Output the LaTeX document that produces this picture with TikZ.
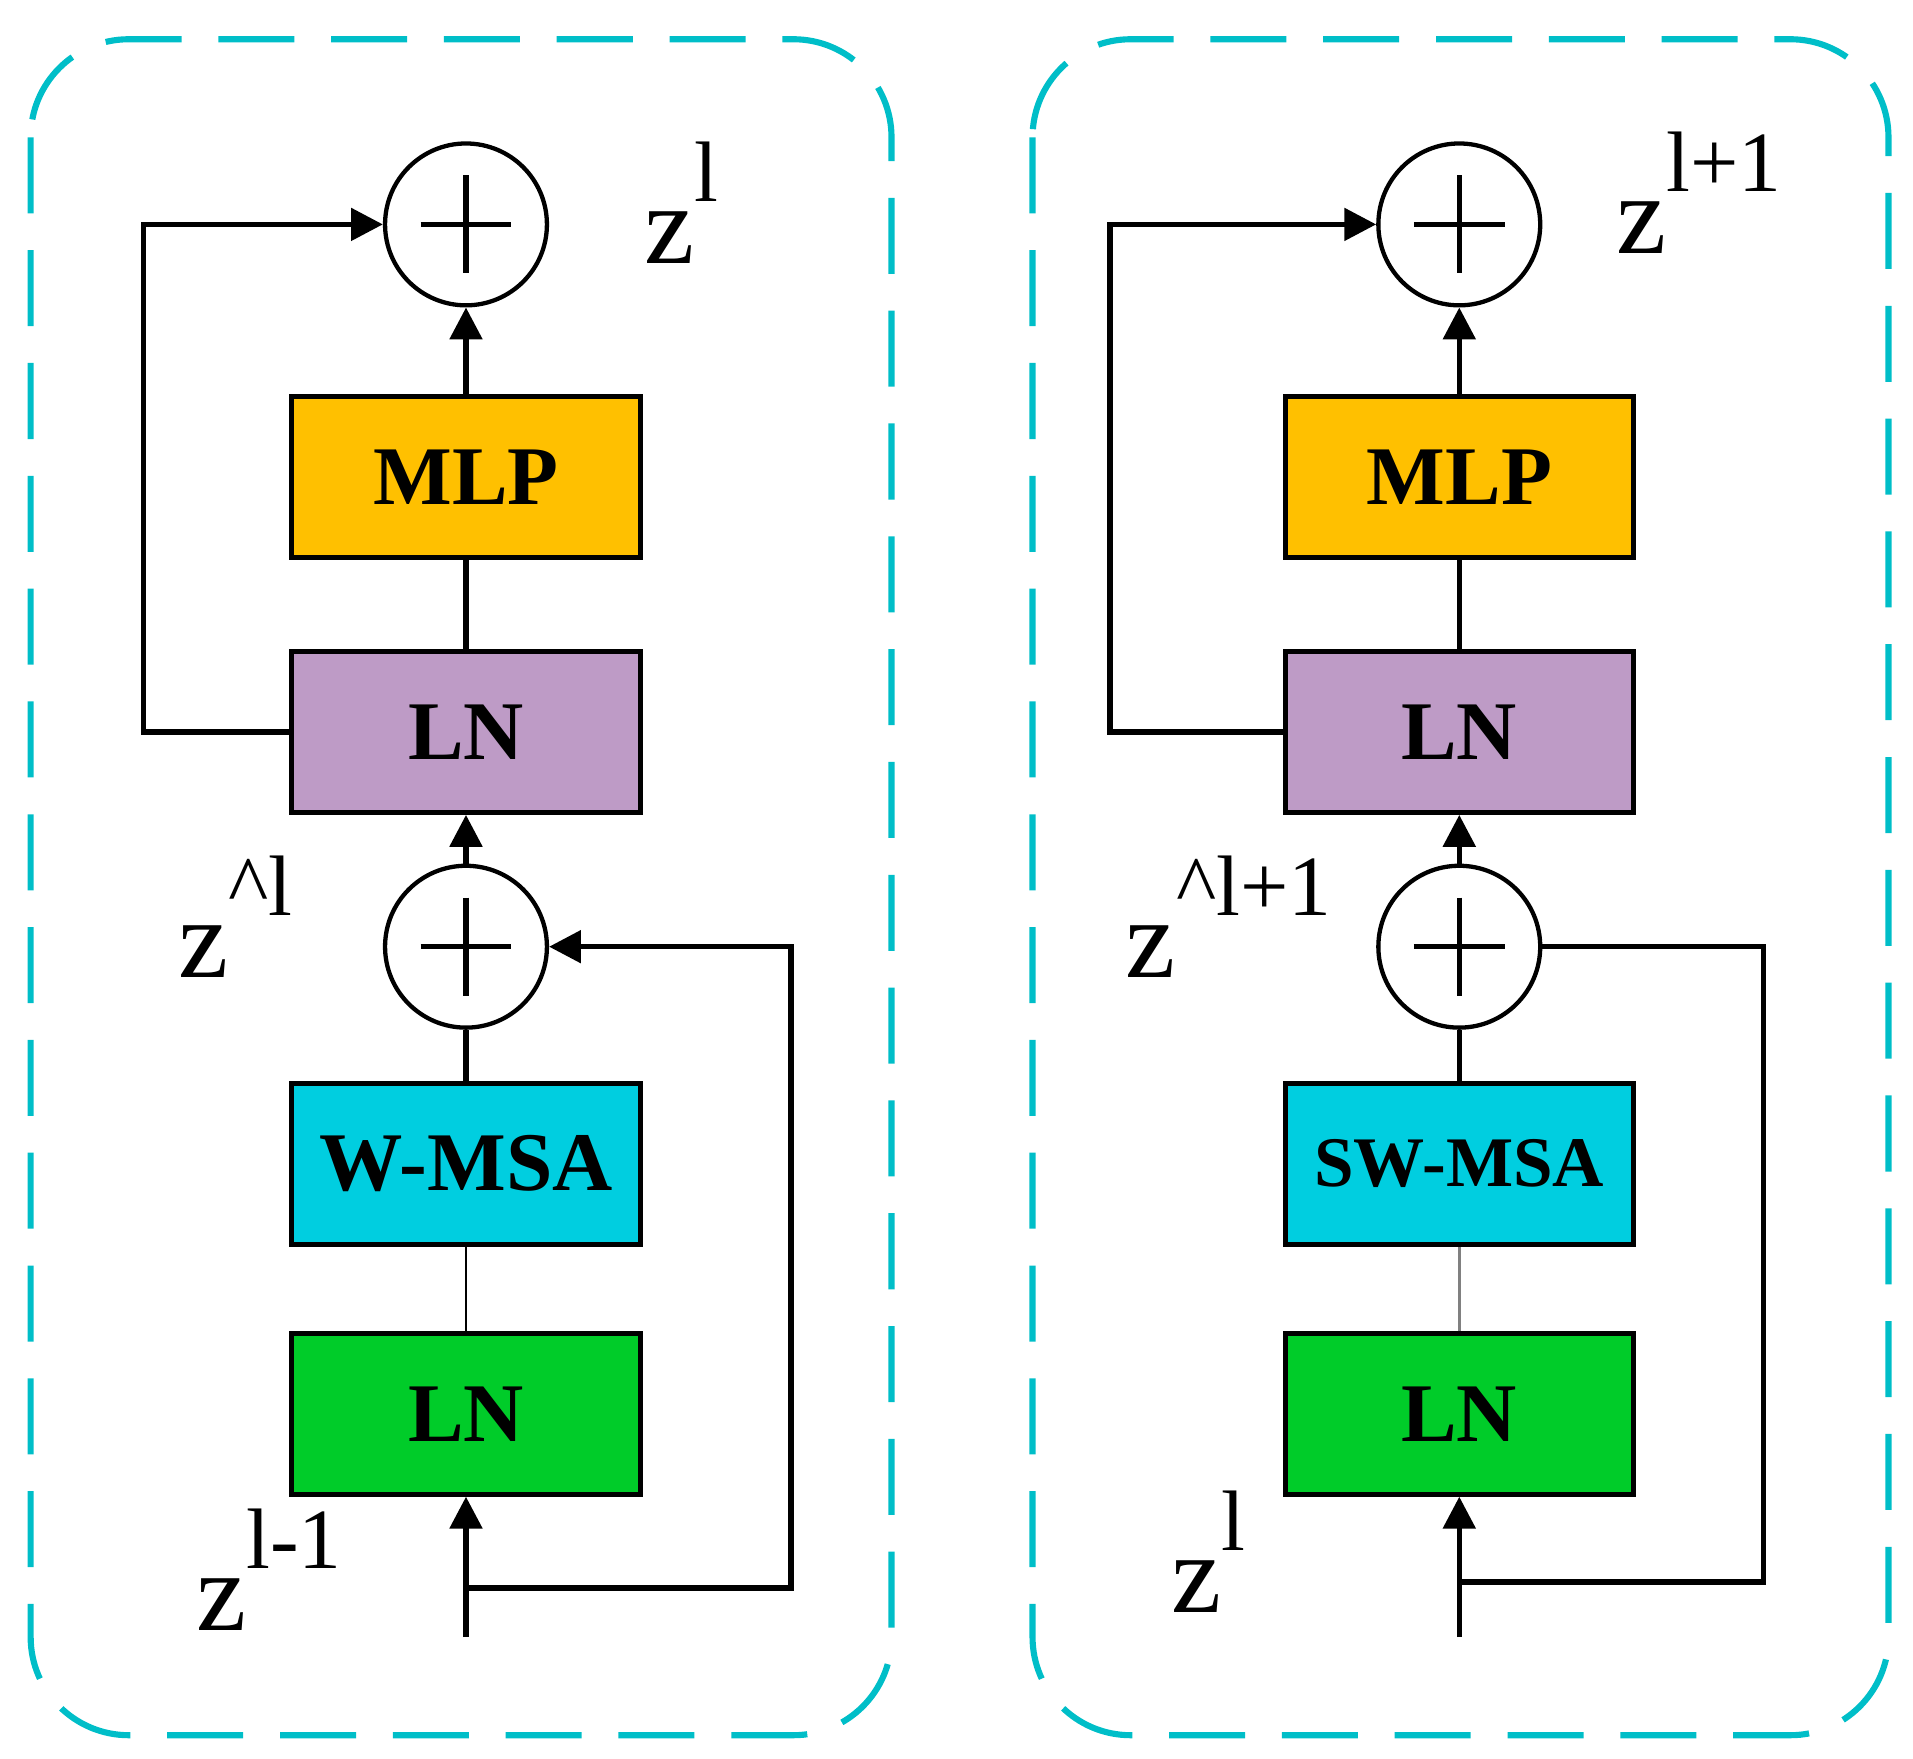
\documentclass[tikz,border=0pt]{standalone}
\usepackage{fontspec}
\setmainfont{Liberation Serif}
\usetikzlibrary{arrows.meta}
\definecolor{dash}{RGB}{0,190,200}
\definecolor{mlp}{RGB}{255,192,0}
\definecolor{lnp}{RGB}{190,155,198}
\definecolor{msa}{RGB}{0,206,224}
\definecolor{lng}{RGB}{0,204,41}
\newcommand{\sups}[1]{\raisebox{0.55em}{\fontsize{70}{72}\selectfont #1}}
\begin{document}
\begin{tikzpicture}[x=1pt,y=-1pt,
  box/.style={draw=black,line width=4pt,minimum width=284pt,minimum height=131pt,inner sep=0pt,font=\fontsize{68}{72}\selectfont\bfseries},
  sum/.style={draw=black,line width=3.5pt,circle,minimum size=132pt,inner sep=0pt},
  frame/.style={draw=dash,line width=5pt,dash pattern=on 62pt off 30pt,rounded corners=80pt},
  ln/.style={line width=4.5pt},
  arr/.style={line width=4.5pt,-{Triangle[length=26pt,width=26pt]}},
  lbl/.style={font=\fontsize{92}{96}\selectfont,inner sep=0pt}]
\useasboundingbox (0,0) rectangle (1560,1434);
\draw[frame] (25,32) rectangle (727,1415);
\draw[frame] (842,32) rectangle (1540,1415);
% left panel
\begin{scope}
\node[sum] (s1) at (380,183) {};
\draw[line width=4.5pt] (s1.center)++(-37,0) -- ++(74,0) (s1.center)++(0,-40) -- ++(0,80);
\node[box,fill=mlp] (mlp) at (380,389) {MLP};
\node[box,fill=lnp] (ln2) at (380,597) {LN};
\node[sum] (s2) at (380,772) {};
\draw[line width=4.5pt] (s2.center)++(-37,0) -- ++(74,0) (s2.center)++(0,-40) -- ++(0,80);
\node[box,fill=msa] (msa) at (380,949) {W-MSA};
\node[box,fill=lng] (ln1) at (380,1153) {LN};
\coordinate (in) at (380,1335);
\coordinate (br) at (380,1295);
\coordinate (c1) at (117,597);
\coordinate (c2) at (117,183);
\coordinate (c3) at (645,1295);
\coordinate (c4) at (645,772);
\draw[arr] (mlp) -- (s1);
\draw[ln] (ln2) -- (mlp);
\draw[arr] (s2) -- (ln2);
\draw[ln] (msa) -- (s2);
\draw[line width=2pt] (ln1) -- (msa);
\draw[arr] (in) -- (ln1);
\draw[arr] (ln2.west) -- (c1) -- (c2) -- (s1);
\draw[arr] (br) -- (c3) -- (c4) -- (s2);
\node[lbl,anchor=base west] (t1) at (525,215) {z\sups{l}};
\node[lbl,anchor=base west] (t2) at (145,797) {z\sups{\textasciicircum l}};
\node[lbl,anchor=base west] (t3) at (160,1330) {z\sups{l-1}};
\end{scope}
% right panel
\begin{scope}[xshift=810pt]
\node[sum] (rs1) at (380,183) {};
\draw[line width=4.5pt] (rs1.center)++(-37,0) -- ++(74,0) (rs1.center)++(0,-40) -- ++(0,80);
\node[box,fill=mlp] (rmlp) at (380,389) {MLP};
\node[box,fill=lnp] (rln2) at (380,597) {LN};
\node[sum] (rs2) at (380,772) {};
\draw[line width=4.5pt] (rs2.center)++(-37,0) -- ++(74,0) (rs2.center)++(0,-40) -- ++(0,80);
\node[box,fill=msa,font=\fontsize{58}{62}\selectfont\bfseries] (rmsa) at (380,949) {SW-MSA};
\node[box,fill=lng] (rln1) at (380,1153) {LN};
\coordinate (rin) at (380,1335);
\coordinate (rbr) at (380,1290);
\coordinate (rc1) at (95,597);
\coordinate (rc2) at (95,183);
\coordinate (rc3) at (628,1290);
\coordinate (rc4) at (628,772);
\draw[arr] (rmlp) -- (rs1);
\draw[ln] (rln2) -- (rmlp);
\draw[arr] (rs2) -- (rln2);
\draw[ln] (rmsa) -- (rs2);
\draw[line width=2pt,gray] (rln1) -- (rmsa);
\draw[arr] (rin) -- (rln1);
\draw[arr] (rln2.west) -- (rc1) -- (rc2) -- (rs1);
\draw[ln] (rbr) -- (rc3) -- (rc4) -- (rs2);
\node[lbl,anchor=base west] (rt1) at (508,207) {z\sups{l+1}};
\node[lbl,anchor=base west] (rt2) at (108,797) {z\sups{\textasciicircum l+1}};
\node[lbl,anchor=base west] (rt3) at (145,1315) {z\sups{l}};
\end{scope}
\end{tikzpicture}
\end{document}
